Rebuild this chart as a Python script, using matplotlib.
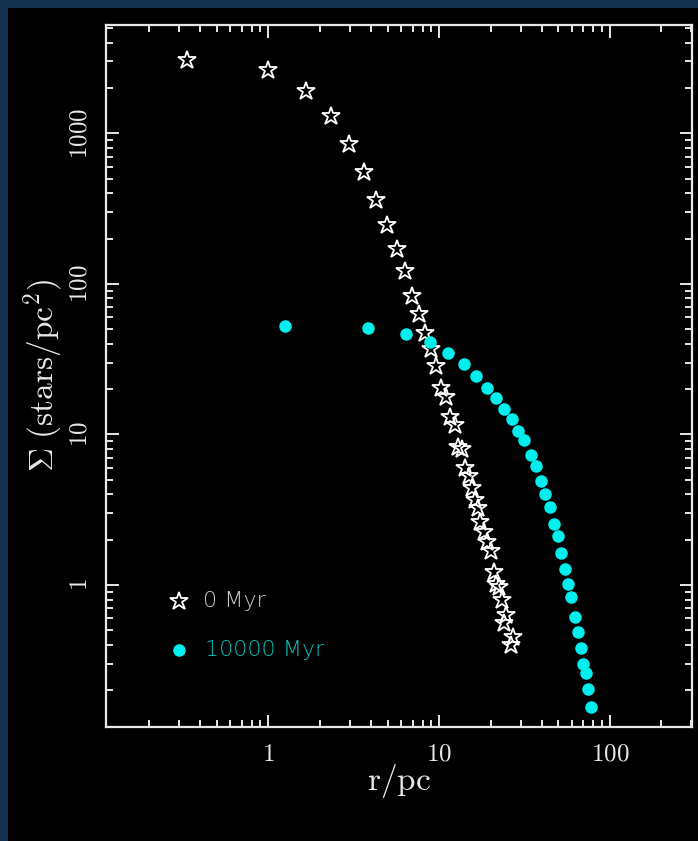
import numpy as np
import matplotlib
matplotlib.use("Agg")
import matplotlib.pyplot as plt
from matplotlib.patches import Rectangle
from matplotlib.ticker import LogLocator, FuncFormatter, NullFormatter

plt.rcParams['mathtext.fontset'] = 'cm'

# 0 Myr profile (stars)
r_0 = [0.333, 1.0, 1.655, 2.32, 2.97, 3.63, 4.27, 4.95, 5.65, 6.29, 6.94, 7.63,
       8.27, 8.91, 9.59, 10.2, 10.97, 11.6, 12.34, 12.9, 13.6, 14.2, 14.9, 15.6,
       16.2, 16.9, 17.4, 18.3, 19.0, 20.1, 20.9, 21.6, 22.3, 23.3, 24.6, 24.0,
       27.0, 26.3]
sig_0 = [3090, 2613, 1918, 1297, 846, 552, 360, 246, 170.6, 121, 83.3, 62.8,
         47.4, 36.8, 28.3, 20.2, 17.6, 13.0, 11.5, 8.24, 7.96, 5.95, 5.3, 4.39,
         3.66, 3.24, 2.63, 2.25, 1.94, 1.69, 1.22, 1.015, 0.974, 0.796, 0.633,
         0.563, 0.455, 0.40]

# 10000 Myr profile (cyan dots)
r_10k = [1.26, 3.82, 6.36, 8.85, 11.3, 14.0, 16.4, 19.0, 21.5, 24.1, 26.7, 29.1,
         31.5, 34.4, 36.8, 39.3, 41.9, 44.6, 47.1, 49.7, 51.9, 54.6, 57.1, 59.4,
         62.2, 64.8, 67.5, 69.3, 72.4, 74.7, 77.5]
sig_10k = [52.2, 50.6, 46.4, 40.9, 34.8, 29.4, 24.5, 20.3, 17.4, 14.8, 12.6, 10.6,
           9.12, 7.34, 6.14, 4.93, 4.05, 3.30, 2.55, 2.11, 1.62, 1.28, 1.01, 0.837,
           0.611, 0.486, 0.381, 0.297, 0.260, 0.205, 0.156]

labels = ['0 Myr', '10000 Myr']

fg = '#e8e8e8'
cyan = '#00eeee'

fig = plt.figure(figsize=(6.98, 8.41), dpi=100, facecolor='#13304f')
bg = Rectangle((8 / 698, 0), 1, (841 - 8) / 841, transform=fig.transFigure,
               facecolor='black', edgecolor='none', zorder=-10)
fig.add_artist(bg)

ax = fig.add_axes([0.1514, 0.1359, 0.8395, 0.8344])
ax.set_facecolor('black')
ax.set_xscale('log')
ax.set_yscale('log')

ax.plot(r_0, sig_0, linestyle='none', marker='*', ms=13.5, mfc='none', mec='white', mew=1.3)
ax.plot(r_10k, sig_10k, linestyle='none', marker='o', ms=8, mfc=cyan, mec=cyan)

ax.set_xlim(0.1117, 301)
ax.set_ylim(0.1146, 5240)

# legend drawn by hand in axes coordinates
ax.plot([0.125], [0.179], transform=ax.transAxes, linestyle='none', marker='*', ms=13.5,
        mfc='none', mec='white', mew=1.3)
ax.plot([0.125], [0.109], transform=ax.transAxes, linestyle='none', marker='o', ms=8,
        mfc=cyan, mec=cyan)
ax.text(0.166, 0.179, labels[0], transform=ax.transAxes, color='#cccccc', fontsize=16,
        va='center', ha='left', fontweight='light')
ax.text(0.170, 0.109, labels[1], transform=ax.transAxes, color='#00c4c4', fontsize=16,
        va='center', ha='left', fontweight='light')

for s in ax.spines.values():
    s.set_color(fg)
    s.set_linewidth(1.6)

fmt = FuncFormatter(lambda v, p: r'$\mathrm{%g}$' % v)
for axis in (ax.xaxis, ax.yaxis):
    axis.set_major_locator(LogLocator(base=10, numticks=10))
    axis.set_minor_locator(LogLocator(base=10, subs=np.arange(2, 10), numticks=20))
    axis.set_major_formatter(fmt)
    axis.set_minor_formatter(NullFormatter())

ax.tick_params(which='both', direction='in', top=True, right=True, colors=fg, width=1.4)
ax.tick_params(which='major', length=9)
ax.tick_params(which='minor', length=5)
ax.tick_params(axis='x', which='major', labelsize=18, pad=11, labelcolor=fg)
ax.tick_params(axis='y', which='major', labelsize=18, pad=10, labelcolor=fg,
               labelrotation=90)
for t in ax.get_yticklabels():
    t.set_va('center')

ax.set_xlabel(r'$\mathrm{r/pc}$', fontsize=24, color=fg, labelpad=-3)
ax.set_ylabel(r'$\Sigma\ \mathrm{(stars/pc^2)}$', fontsize=24, color=fg, labelpad=2)

fig.savefig('out.png', dpi=100, facecolor=fig.get_facecolor())
